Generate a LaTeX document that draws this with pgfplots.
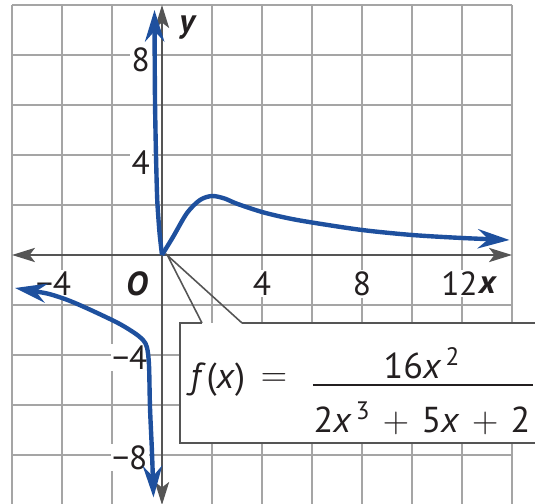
\documentclass[border=0pt]{standalone}
\usepackage{fontspec}
\setmainfont{PT Sans}
\usepackage{pgfplots}
\pgfplotsset{compat=1.18}
\usetikzlibrary{arrows.meta}
\definecolor{curveblue}{RGB}{30,80,158}
\definecolor{gridgray}{RGB}{165,165,165}
\definecolor{axisgray}{RGB}{85,85,85}
\definecolor{txt}{RGB}{35,31,32}
\tikzset{
  axarrow/.tip={Stealth[length=13pt,width=8pt,inset=3pt]},
  cvarrow/.tip={Stealth[length=18pt,width=11pt,inset=6pt]},
  lbl/.style={fill=white, inner sep=1pt, text=txt, font=\fontsize{19}{22}\selectfont},
  frm/.style={inner sep=0pt, text=txt, font=\fontsize{20.5}{24}\selectfont},
}
\newcommand{\pl}{\hspace{0.12em}${}+{}$\hspace{0.12em}}
\begin{document}
\begin{tikzpicture}
\begin{axis}[
  x=0.5cm, y=0.5cm,
  anchor=origin, at={(0,0)},
  axis lines=middle,
  xmin=-6, xmax=14, ymin=-10, ymax=10,
  xtick={-6,-4,...,14}, ytick={-10,-8,...,10},
  xticklabels={}, yticklabels={},
  major tick length=0pt,
  grid=major,
  grid style={gridgray, line width=1.1pt},
  axis line style={axisgray, line width=1.6pt},
  x axis line style={axarrow-axarrow},
  y axis line style={axarrow-axarrow},
  clip=false,
]
% tick labels
\node[lbl] at (axis cs:-4,-1.15) {\llap{−}4};
\node[lbl] at (axis cs:-1,-1.15) {\textbf{\textit{O}}};
\node[lbl] at (axis cs:4,-1.15) {4};
\node[lbl] at (axis cs:8,-1.15) {8};
\node[lbl] at (axis cs:11.9,-1.15) {12};
\node[lbl, fill=none] at (axis cs:13.05,-1.2) {\textbf{\textit{x}}};
\node[lbl, anchor=east] at (axis cs:-0.4,7.8) {8};
\node[lbl, anchor=east] at (axis cs:-0.4,3.7) {4};
\node[lbl, anchor=east] at (axis cs:-0.5,-4.1) {−4};
\node[lbl, anchor=east] at (axis cs:-0.5,-8.1) {−8};
\node[lbl, fill=none] at (axis cs:1.05,9.1) {\textbf{\textit{y}}};

% callout box
\fill[white] (axis cs:0.72,-2.72) rectangle (axis cs:15.6,-7.52);
\draw[axisgray, line width=1.4pt] (axis cs:1.6,-2.72) -- (axis cs:0.72,-2.72)
  -- (axis cs:0.72,-7.52) -- (axis cs:15.6,-7.52);
\draw[axisgray, line width=1.4pt] (axis cs:3.2,-2.72) -- (axis cs:15.6,-2.72);
\draw[axisgray, line width=0.9pt] (axis cs:1.6,-2.72) -- (axis cs:0.22,-0.02) -- (axis cs:3.2,-2.72);
\node[frm, anchor=west] at (axis cs:1.12,-5.0) {\textit{f}\kern0.02em(\textit{x})};
\node[frm] at (axis cs:4.48,-5.0) {$=$};
\node[frm] at (axis cs:10.4,-4.32) {16\textit{x}\textsuperscript{\,2}};
\node[frm] at (axis cs:10.4,-6.52) {2\textit{x}\textsuperscript{\,3}\pl 5\textit{x}\pl 2};
\draw[txt, line width=1.1pt] (axis cs:6.04,-5.2) -- (axis cs:14.84,-5.2);

% curve
\addplot[curveblue, line width=2.5pt, cvarrow-, smooth, tension=0.4, line join=round]
  coordinates {(-0.30,9.8) (-0.28,6.2) (-0.24,4.0) (-0.19,2.2) (-0.10,0.9) (0,0)};
\addplot[curveblue, line width=2.5pt, -cvarrow, smooth, tension=0.5, line join=round]
  coordinates {(0,0) (0.44,0.72) (1.0,1.68) (1.52,2.2) (2.0,2.36) (2.5,2.26) (3,2.05)
    (4,1.72) (5,1.48) (6,1.3) (8,1.0) (10,0.8) (12,0.68) (13.9,0.6)};
\addplot[curveblue, line width=2.5pt, cvarrow-cvarrow, smooth, tension=0.5]
  coordinates {(-5.88,-1.32) (-4,-1.72) (-2,-2.6) (-1.16,-3.08) (-0.76,-3.4)
    (-0.6,-3.7) (-0.52,-4.4) (-0.48,-6.1) (-0.4,-7.9) (-0.34,-9.7)};

\coordinate (bbsw) at (axis cs:-6.48,-9.96);
\coordinate (bbne) at (axis cs:14.92,10.2);
\end{axis}
\pgfresetboundingbox
\path[use as bounding box] (bbsw) rectangle (bbne);
\end{tikzpicture}
\end{document}
